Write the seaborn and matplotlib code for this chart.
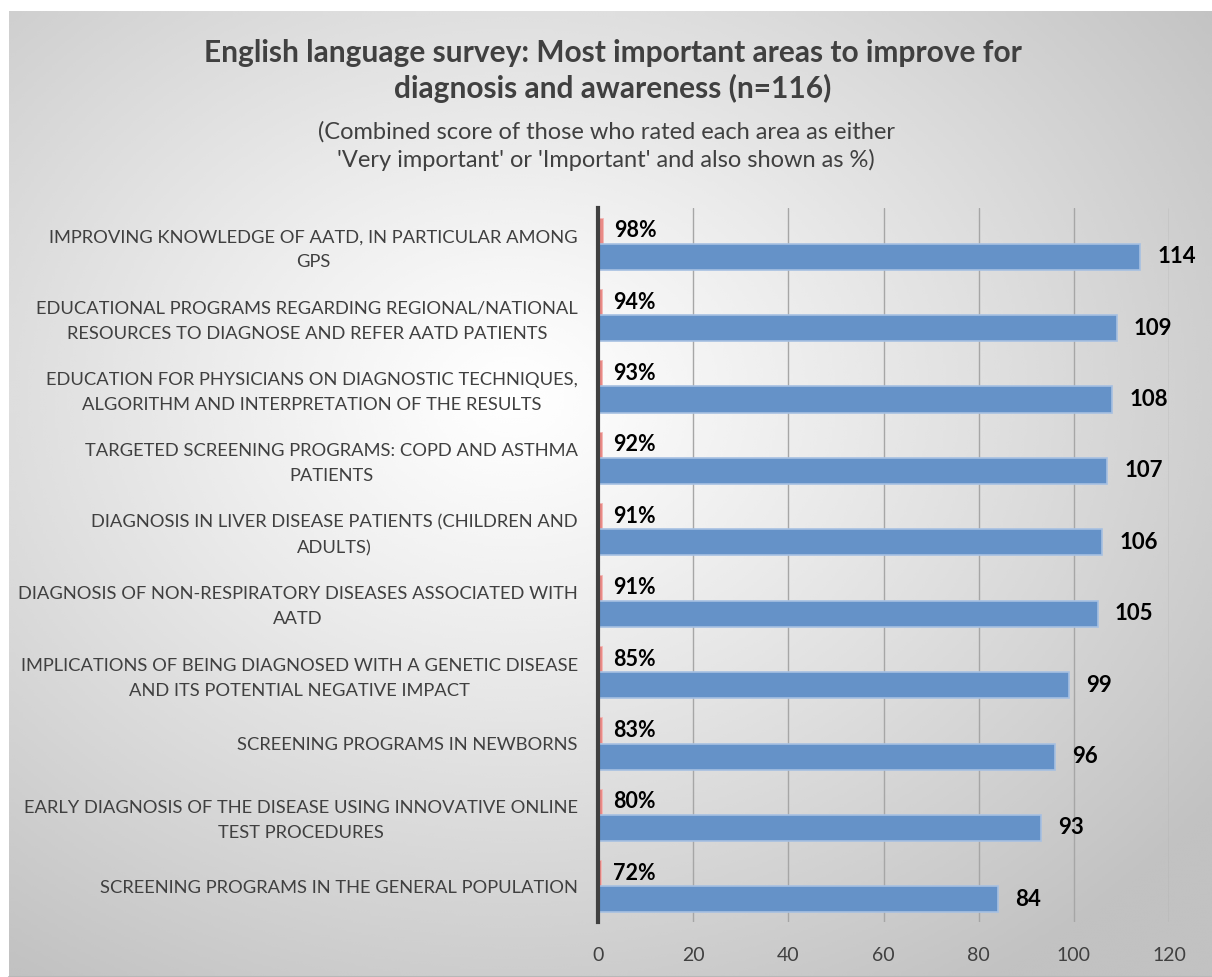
import numpy as np
import pandas as pd
import matplotlib
matplotlib.use("Agg")
import matplotlib.pyplot as plt
import seaborn as sns

categories = [
    "IMPROVING KNOWLEDGE OF AATD, IN PARTICULAR AMONG\nGPS",
    "EDUCATIONAL PROGRAMS REGARDING REGIONAL/NATIONAL\nRESOURCES TO DIAGNOSE AND REFER AATD PATIENTS",
    "EDUCATION FOR PHYSICIANS ON DIAGNOSTIC TECHNIQUES,\nALGORITHM AND INTERPRETATION OF THE RESULTS",
    "TARGETED SCREENING PROGRAMS: COPD AND ASTHMA\nPATIENTS",
    "DIAGNOSIS IN LIVER DISEASE PATIENTS (CHILDREN AND\nADULTS)",
    "DIAGNOSIS OF NON-RESPIRATORY DISEASES ASSOCIATED WITH\nAATD",
    "IMPLICATIONS OF BEING DIAGNOSED WITH A GENETIC DISEASE\nAND ITS POTENTIAL NEGATIVE IMPACT",
    "SCREENING PROGRAMS IN NEWBORNS",
    "EARLY DIAGNOSIS OF THE DISEASE USING INNOVATIVE ONLINE\nTEST PROCEDURES",
    "SCREENING PROGRAMS IN THE GENERAL POPULATION",
]
share = [0.98, 0.94, 0.93, 0.92, 0.91, 0.91, 0.85, 0.83, 0.80, 0.72]
counts = [114, 109, 108, 107, 106, 105, 99, 96, 93, 84]
x_ticks = [0, 20, 40, 60, 80, 100, 120]

title = "English language survey: Most important areas to improve for\ndiagnosis and awareness (n=116)"
subtitle = ("(Combined score of those who rated each area as either\n"
            "'Very important' or 'Important' and also shown as %)")

sns.set_theme(style="white")
plt.rcParams["font.family"] = ["Lato", "DejaVu Sans"]

W, H = 1212, 977
fig = plt.figure(figsize=(W / 100, H / 100), dpi=100, facecolor="white")

# soft radial background panel
bg = fig.add_axes([9 / W, 0, 1 - 9 / W, 1 - 11 / H])
bg.set_axis_off()
gx, gy = np.meshgrid(np.linspace(0, 1, 400), np.linspace(0, 1, 400))
dist = np.sqrt((gx - 0.42) ** 2 + (gy - 0.40) ** 2)
shade = 1.0 - 0.24 * np.clip(dist / 0.72, 0, 1) ** 1.1
bg.imshow(shade, cmap="gray", vmin=0, vmax=1, aspect="auto",
          extent=(0, 1, 1, 0), interpolation="bicubic")
bg.plot([0, 1], [0, 0], color="#b8b8b8", lw=1.5, transform=bg.transAxes, clip_on=False)
bg.set_xlim(0, 1)
bg.set_ylim(1, 0)

df = pd.DataFrame({
    "area": categories * 2,
    "series": ["share"] * len(categories) + ["count"] * len(categories),
    "value": share + counts,
})

ax = fig.add_axes([598 / W, 1 - 922 / H, (1169 - 598) / W, (922 - 208) / H])
ax.set_facecolor("none")
sns.barplot(data=df, y="area", x="value", hue="series", hue_order=["share", "count"],
            order=categories, palette={"share": "#e98a86", "count": "#6592c8"},
            saturation=1, width=0.73, gap=0, dodge=True, legend=False, ax=ax, zorder=3)

for bar in ax.containers[1]:
    bar.set_edgecolor("#a6c0e2")
    bar.set_linewidth(1.2)
for bar in ax.containers[0]:
    bar.set_edgecolor("#f3b8b6")
    bar.set_linewidth(0.6)

ax.bar_label(ax.containers[0], labels=[f"{round(v * 100)}%" for v in share],
             padding=8, fontsize=15.5, fontweight="bold", color="black")
ax.bar_label(ax.containers[1], labels=[str(v) for v in counts],
             padding=12.5, fontsize=16, fontweight="bold", color="black")

ax.set_xlim(0, 120)
ax.set_xticks(x_ticks)
ax.set_xticklabels([str(t) for t in x_ticks], fontsize=14, color="#404040")
ax.tick_params(axis="x", length=0, pad=18)
ax.xaxis.grid(True, color="#a6a6a6", lw=1.0, zorder=0)
ax.set_axisbelow(True)
ax.set_xlabel("")
ax.set_ylabel("")
for side in ["top", "right", "bottom"]:
    ax.spines[side].set_visible(False)
ax.spines["left"].set_color("#404040")
ax.spines["left"].set_linewidth(3)
ax.spines["left"].set_zorder(5)

ax.tick_params(axis="y", length=0, pad=14.5)
for lbl in ax.get_yticklabels():
    lbl.set_fontsize(13.2)
    lbl.set_color("#404040")
    lbl.set_multialignment("center")
    lbl.set_linespacing(1.7)

fig.text(613 / W, 1 - 71 / H, title, ha="center", va="center", fontsize=21.5,
         fontweight="bold", color="#404040", linespacing=1.3)
fig.text(606 / W, 1 - 146 / H, subtitle, ha="center", va="center", fontsize=17,
         color="#404040", linespacing=1.4)

fig.savefig("out.png", dpi=100, facecolor="white")
